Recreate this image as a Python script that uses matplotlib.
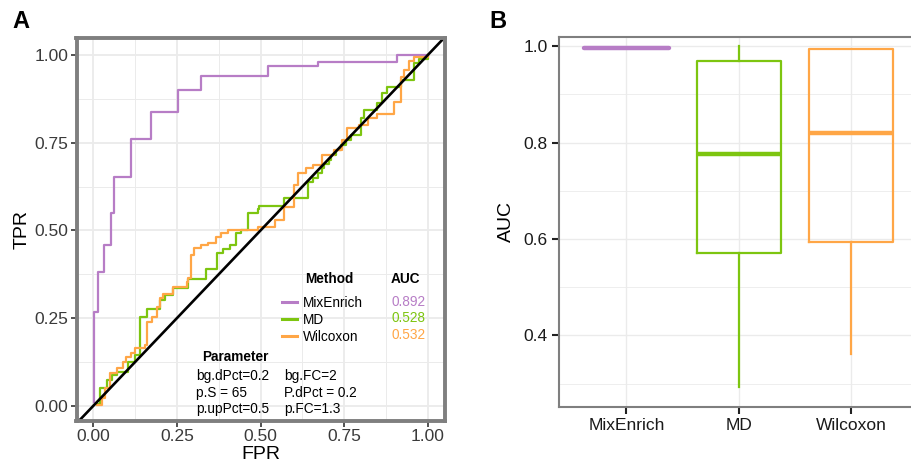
import matplotlib.pyplot as plt
import numpy as np

plt.rcParams['font.family'] = ['Liberation Sans', 'DejaVu Sans']

methods = ['MixEnrich', 'MD', 'Wilcoxon']
colors = ['#B77DC6', '#7DC510', '#FFA646']
auc_values = ['0.892', '0.528', '0.532']

# ROC step points (FPR, TPR)
mixenrich_fpr = [0.003, 0.003, 0.013, 0.031, 0.053, 0.063, 0.112, 0.172, 0.252,
                 0.323, 0.522, 0.671, 0.909, 1.0]
mixenrich_tpr = [0.012, 0.269, 0.383, 0.459, 0.549, 0.652, 0.760, 0.839, 0.900,
                 0.940, 0.970, 0.979, 1.0, 1.0]

md_fpr = [0.013, 0.021, 0.041, 0.056, 0.070, 0.105, 0.125, 0.140, 0.160, 0.201,
          0.214, 0.239, 0.284, 0.338, 0.370, 0.388, 0.408, 0.428, 0.443, 0.462,
          0.492, 0.497, 0.571, 0.641, 0.656, 0.671, 0.685, 0.690, 0.705, 0.710,
          0.725, 0.740, 0.755, 0.770, 0.800, 0.810, 0.849, 0.864, 0.879, 0.919,
          0.958, 0.973, 1.0]
md_tpr = [0.005, 0.050, 0.074, 0.088, 0.098, 0.126, 0.145, 0.252, 0.275, 0.302,
          0.316, 0.335, 0.361, 0.389, 0.435, 0.446, 0.459, 0.492, 0.501, 0.549,
          0.560, 0.571, 0.592, 0.639, 0.649, 0.663, 0.677, 0.689, 0.701, 0.715,
          0.729, 0.744, 0.758, 0.772, 0.820, 0.843, 0.862, 0.891, 0.910, 0.929,
          0.976, 0.990, 1.0]

wilcoxon_fpr = [0.011, 0.026, 0.036, 0.051, 0.070, 0.090, 0.098, 0.112, 0.125,
                0.155, 0.162, 0.175, 0.190, 0.201, 0.209, 0.239, 0.279, 0.284,
                0.291, 0.301, 0.323, 0.343, 0.368, 0.383, 0.403, 0.492, 0.542,
                0.571, 0.601, 0.611, 0.636, 0.656, 0.685, 0.720, 0.745, 0.760,
                0.795, 0.820, 0.849, 0.899, 0.919, 0.929, 0.943, 0.958, 1.0]
wilcoxon_tpr = [0.003, 0.022, 0.050, 0.093, 0.107, 0.126, 0.140, 0.152, 0.164,
                0.174, 0.240, 0.254, 0.281, 0.307, 0.319, 0.340, 0.354, 0.364,
                0.430, 0.449, 0.459, 0.463, 0.482, 0.492, 0.501, 0.511, 0.530,
                0.568, 0.630, 0.663, 0.677, 0.687, 0.715, 0.729, 0.758, 0.791,
                0.801, 0.820, 0.832, 0.867, 0.938, 0.958, 0.984, 0.995, 1.0]

roc_fpr = [mixenrich_fpr, md_fpr, wilcoxon_fpr]
roc_tpr = [mixenrich_tpr, md_tpr, wilcoxon_tpr]

# AUC box plot summary
box_lo = [0.996, 0.293, 0.362]
box_q1 = [0.996, 0.570, 0.594]
box_med = [0.996, 0.776, 0.819]
box_q3 = [0.996, 0.969, 0.993]
box_hi = [0.996, 1.0, 0.993]

roc_ticks = [0, 0.25, 0.5, 0.75, 1.0]
roc_ticklabels = ['0.00', '0.25', '0.50', '0.75', '1.00']
auc_ticks = [0.4, 0.6, 0.8, 1.0]

W, H = 911, 474
fig = plt.figure(figsize=(W / 100, H / 100), dpi=100)

grid_col = '#EBEBEB'

# ---- panel A: ROC curves
ax = fig.add_axes([76.5 / W, (H - 421) / H, 368 / W, 383.5 / H])
ax.set_xlim(-0.05, 1.05)
ax.set_ylim(-0.043, 1.05)
ax.set_xticks(roc_ticks)
ax.set_xticklabels(roc_ticklabels)
ax.set_yticks(roc_ticks)
ax.set_yticklabels(roc_ticklabels)
ax.set_xticks([0.125, 0.375, 0.625, 0.875], minor=True)
ax.set_yticks([0.125, 0.375, 0.625, 0.875], minor=True)
ax.grid(which='major', color=grid_col, lw=1.3)
ax.grid(which='minor', color=grid_col, lw=0.7)
ax.set_axisbelow(True)
ax.tick_params(which='minor', length=0)
ax.tick_params(which='major', length=4, width=1.2, color='#333333',
               labelsize=12.5, labelcolor='#3a3a3a', pad=2)
for s in ax.spines.values():
    s.set_color('#7f7f7f')
    s.set_linewidth(2.8)

for fpr, tpr, c, m in zip(roc_fpr, roc_tpr, colors, methods):
    ax.plot(fpr, tpr, drawstyle='steps-post', color=c, lw=1.6, label=m)
ax.axline((0, 0), slope=1, color='black', lw=1.9)

ax.set_xlabel('FPR', fontsize=14, labelpad=1)
ax.set_ylabel('TPR', fontsize=14, labelpad=3)

leg = ax.legend(loc='upper left', bbox_to_anchor=(0.558, 0.3255), frameon=False,
                fontsize=9.8, handlelength=1.1, handletextpad=0.45,
                labelspacing=0.22, borderpad=0, borderaxespad=0)
for h in leg.get_lines():
    h.set_linewidth(2.2)
ax.text(0.687, 0.3695, 'Method', transform=ax.transAxes, fontsize=9.8,
        fontweight='bold', ha='center', va='center')
ax.text(0.893, 0.3695, 'AUC', transform=ax.transAxes, fontsize=9.8,
        fontweight='bold', ha='center', va='center')
for i, (v, c) in enumerate(zip(auc_values, colors)):
    ax.text(0.857, 0.311 - i * 0.0435, v, transform=ax.transAxes,
            fontsize=9.8, color=c, ha='left', va='center')

ax.text(0.431, 0.166, 'Parameter', transform=ax.transAxes, fontsize=9.8,
        fontweight='bold', ha='center', va='center')
params_left = ['bg.dPct=0.2', 'p.S = 65', 'p.upPct=0.5']
params_right = ['bg.FC=2', 'P.dPct = 0.2', 'p.FC=1.3']
for i, (l, r) in enumerate(zip(params_left, params_right)):
    y = 0.118 - i * 0.0438
    ax.text(0.325, y, l, transform=ax.transAxes, fontsize=9.8, ha='left', va='center')
    ax.text(0.565, y, r, transform=ax.transAxes, fontsize=9.8, ha='left', va='center')

# ---- panel B: AUC box plots
bx = fig.add_axes([559 / W, (H - 406.7) / H, 359.5 / W, 370 / H])
stats = []
for i, m in enumerate(methods):
    stats.append({'label': m, 'whislo': box_lo[i], 'q1': box_q1[i], 'med': box_med[i],
                  'q3': box_q3[i], 'whishi': box_hi[i]})
pos = np.arange(1, len(methods) + 1)
bp = bx.bxp(stats, positions=pos, widths=0.75, showcaps=False, showfliers=False)
for i, c in enumerate(colors):
    bp['boxes'][i].set_color(c)
    bp['boxes'][i].set_linewidth(1.6)
    bp['medians'][i].set_color(c)
    bp['medians'][i].set_linewidth(3.2)
    for w in bp['whiskers'][2 * i:2 * i + 2]:
        w.set_color(c)
        w.set_linewidth(1.6)
bp['medians'][0].set_solid_capstyle('round')

bx.set_xlim(0.4, 3.6)
bx.set_ylim(0.2524, 1.0193)
bx.set_yticks(auc_ticks)
bx.set_yticks([0.3, 0.5, 0.7, 0.9], minor=True)
bx.grid(which='major', color=grid_col, lw=1.0)
bx.grid(which='minor', axis='y', color=grid_col, lw=0.6)
bx.set_axisbelow(True)
bx.tick_params(which='minor', length=0)
bx.tick_params(which='major', length=5, width=1.5, color='#222222',
               labelsize=12.5, labelcolor='#1a1a1a', pad=3)
for s in bx.spines.values():
    s.set_color('#7f7f7f')
    s.set_linewidth(1.5)
bx.set_ylabel('AUC', fontsize=14, labelpad=6)

fig.text(12 / W, 1 - 22 / H, 'A', fontsize=17, fontweight='bold', va='center', ha='left')
fig.text(489 / W, 1 - 22 / H, 'B', fontsize=17, fontweight='bold', va='center', ha='left')

fig.savefig('out.png', dpi=100)
